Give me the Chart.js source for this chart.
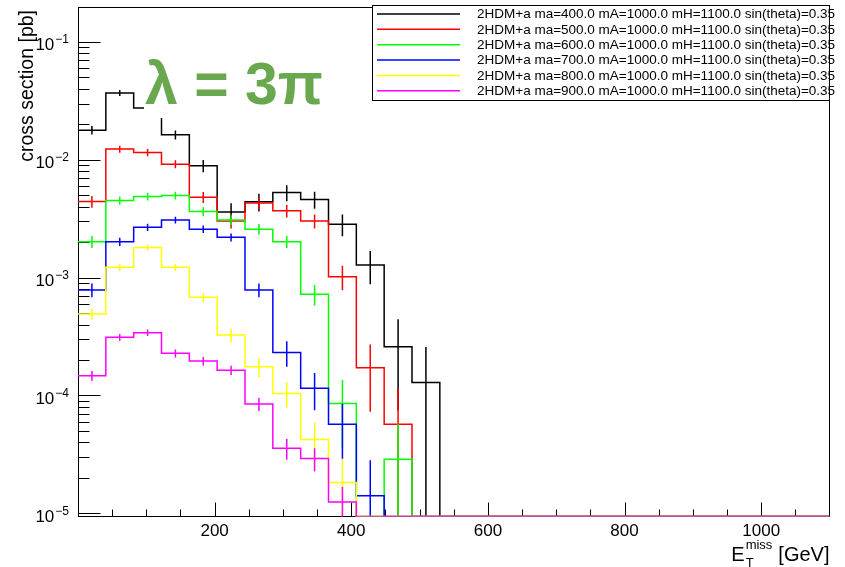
<!DOCTYPE html>
<html>
<head>
<meta charset="utf-8">
<title>MET distribution</title>
<script src="https://cdn.jsdelivr.net/npm/chart.js@4.4.1/dist/chart.umd.min.js"></script>
<style>
  html, body { margin: 0; padding: 0; background: #ffffff; }
  #wrap { position: relative; width: 845px; height: 567px; }
</style>
</head>
<body>
<div id="wrap"><canvas id="metChart" width="845" height="567"></canvas></div>
<script>
// binning: 27 equal bins over 0-1100 GeV
const nBins = 27;
const xMax = 1100;
const yMin = 9.4e-6;
const yMax = 0.2;

const seriesLabels = [
    '2HDM+a ma=400.0 mA=1000.0 mH=1100.0 sin(theta)=0.35',
    '2HDM+a ma=500.0 mA=1000.0 mH=1100.0 sin(theta)=0.35',
    '2HDM+a ma=600.0 mA=1000.0 mH=1100.0 sin(theta)=0.35',
    '2HDM+a ma=700.0 mA=1000.0 mH=1100.0 sin(theta)=0.35',
    '2HDM+a ma=800.0 mA=1000.0 mH=1100.0 sin(theta)=0.35',
    '2HDM+a ma=900.0 mA=1000.0 mH=1100.0 sin(theta)=0.35'
];
const seriesColors = ['#000000', '#ff0000', '#00ff00', '#0000ff', '#ffff00', '#ff00ff'];

// cross section per bin [pb], bins past the end of each list are empty
const xsMa400 = [0.01786, 0.0369, 0.0275, 0.0163, 0.00889, 0.0036, 0.0044, 0.00527, 0.0046, 0.00284, 0.00128, 0.000259, 0.000129];
const xsMa500 = [0.00442, 0.01233, 0.01153, 0.00919, 0.00482, 0.00303, 0.00429, 0.00369, 0.00303, 0.00102, 0.000172, 5.71e-5];
const xsMa600 = [0.00202, 0.00451, 0.00488, 0.00498, 0.00364, 0.00309, 0.00258, 0.00202, 0.000723, 8.57e-5, 0, 2.88e-5];
const xsMa700 = [0.000787, 0.00202, 0.00268, 0.00309, 0.00258, 0.0022, 0.000787, 0.000232, 0.000115, 5.71e-5, 1.41e-5];
const xsMa800 = [0.000492, 0.001225, 0.0018, 0.001225, 0.000681, 0.000326, 0.000175, 0.000104, 4.24e-5, 1.83e-5];
const xsMa900 = [0.000147, 0.000312, 0.000341, 0.000228, 0.000196, 0.000164, 8.45e-5, 3.56e-5, 2.92e-5, 1.25e-5];

// statistical errors per bin [pb]
const errMa400 = [0.0015, 0.00214, 0.00184, 0.00143, 0.00106, 0.000677, 0.000752, 0.000817, 0.000764, 0.000599, 0.000403, 0.000184, 0.000129];
const errMa500 = [0.0005, 0.000826, 0.000807, 0.000717, 0.00052, 0.000412, 0.000489, 0.000454, 0.000412, 0.00024, 9.92e-5, 5.71e-5];
const errMa600 = [0.000238, 0.000356, 0.000371, 0.000374, 0.00032, 0.000294, 0.000268, 0.000238, 0.000143, 4.97e-5, 0, 2.88e-5];
const errMa700 = [0.000104, 0.000166, 0.00019, 0.000204, 0.000188, 0.000174, 0.000104, 5.68e-5, 4.01e-5, 2.8e-5, 1.41e-5];
const errMa800 = [5.36e-5, 8.45e-5, 0.000103, 8.45e-5, 6.33e-5, 4.37e-5, 3.22e-5, 2.49e-5, 1.59e-5, 1.06e-5];
const errMa900 = [1.43e-5, 2.06e-5, 2.15e-5, 1.78e-5, 1.65e-5, 1.51e-5, 1.08e-5, 7.05e-6, 6.39e-6, 4.19e-6];

// axis ticks
const xTickLabels = [200, 400, 600, 800, 1000];
const xMinorStep = 50;
const yDecades = [-5, -4, -3, -2, -1];

const allValues = [xsMa400, xsMa500, xsMa600, xsMa700, xsMa800, xsMa900];
const allErrors = [errMa400, errMa500, errMa600, errMa700, errMa800, errMa900];
const binWidth = xMax / nBins;
const lineW = 1.5;
const fontFamily = '"Liberation Sans", Arial, Helvetica, sans-serif';

// step outline: one point per bin low edge, empty bins sit on the frame
function histPoints(values) {
    const pts = [];
    for (let i = 0; i < nBins; i++) {
        const v = i < values.length && values[i] > 0 ? values[i] : yMin;
        pts.push({ x: i * binWidth, y: v });
    }
    pts.push({ x: xMax, y: yMin });
    return pts;
}

// vertical error bars at bin centres, separated by gaps
function errorPoints(values, errors) {
    const pts = [];
    values.forEach((v, i) => {
        if (v <= 0) return;
        const xc = (i + 0.5) * binWidth;
        pts.push({ x: xc, y: Math.max(v - errors[i], yMin) });
        pts.push({ x: xc, y: v + errors[i] });
        pts.push({ x: xc, y: null });
    });
    return pts;
}

const datasets = [];
allValues.forEach((vals, i) => {
    datasets.push({
        label: seriesLabels[i],
        data: histPoints(vals),
        borderColor: seriesColors[i],
        borderWidth: lineW,
        stepped: 'before',
        pointRadius: 0,
        fill: false,
        order: 10 - i
    });
});
allValues.forEach((vals, i) => {
    datasets.push({
        label: '',
        data: errorPoints(vals, allErrors[i]),
        borderColor: seriesColors[i],
        borderWidth: lineW,
        pointRadius: 0,
        spanGaps: false,
        fill: false,
        order: 10 - i
    });
});

function drawPower(ctx, right, baseY, exp) {
    ctx.font = '12px ' + fontFamily;
    const sup = '\u2212' + Math.abs(exp);
    const supW = ctx.measureText(sup).width;
    ctx.textAlign = 'left';
    ctx.fillText(sup, right - supW, baseY - 7);
    ctx.font = '17px ' + fontFamily;
    ctx.textAlign = 'right';
    ctx.fillText('10', right - supW - 1, baseY);
}

const rootStyle = {
    id: 'rootStyle',
    // frame and ticks go under the histograms
    beforeDatasetsDraw(chart) {
        const { ctx, chartArea: a, scales: { x, y } } = chart;
        ctx.save();
        ctx.strokeStyle = '#000000';
        ctx.lineWidth = 1;

        ctx.strokeRect(Math.round(a.left) + 0.5, Math.round(a.top) + 0.5,
            Math.round(a.right - a.left) - 1, Math.round(a.bottom - a.top) - 1);

        const yb = Math.round(a.bottom) - 0.5;
        ctx.beginPath();
        for (let v = xMinorStep; v < xMax; v += xMinorStep) {
            const px = Math.round(x.getPixelForValue(v)) + 0.5;
            const len = v % 200 === 0 ? 14 : 7;
            ctx.moveTo(px, yb);
            ctx.lineTo(px, yb - len);
        }
        ctx.stroke();

        const xl = Math.round(a.left) + 0.5;
        ctx.beginPath();
        for (let k = -6; k <= 0; k++) {
            for (let m = 1; m <= 9; m++) {
                const v = m * Math.pow(10, k);
                if (v < yMin || v > yMax) continue;
                const py = Math.round(y.getPixelForValue(v)) + 0.5;
                const len = m === 1 ? 22 : 11;
                ctx.moveTo(xl, py);
                ctx.lineTo(xl + len, py);
            }
        }
        ctx.stroke();
        ctx.restore();
    },
    afterDatasetsDraw(chart) {
        const { ctx } = chart;
        // lambda annotation on a white patch
        ctx.save();
        ctx.fillStyle = '#ffffff';
        ctx.fillRect(144, 48, 188, 70);
        ctx.fillStyle = '#6aa84f';
        ctx.font = 'bold 59px ' + fontFamily;
        ctx.textAlign = 'left';
        ctx.textBaseline = 'alphabetic';
        ctx.fillText('\u03bb = 3\u03c0', 145, 104);
        ctx.restore();
    },
    afterDraw(chart) {
        const { ctx, chartArea: a, scales: { x, y } } = chart;
        ctx.save();
        ctx.fillStyle = '#000000';

        // x labels
        ctx.font = '17px ' + fontFamily;
        ctx.textAlign = 'center';
        ctx.textBaseline = 'alphabetic';
        xTickLabels.forEach(v => {
            ctx.fillText(String(v), x.getPixelForValue(v), a.bottom + 19);
        });

        // y labels 10^k
        yDecades.forEach(k => {
            const py = y.getPixelForValue(Math.pow(10, k));
            drawPower(ctx, 69, py + 8.5, k);
        });

        // x title: E_T^miss [GeV]
        ctx.font = '20px ' + fontFamily;
        ctx.textAlign = 'right';
        const titleBase = 561;
        ctx.fillText('[GeV]', a.right, titleBase);
        const gevW = ctx.measureText('[GeV]').width;
        ctx.font = '13px ' + fontFamily;
        const missW = ctx.measureText('miss').width;
        const missRight = a.right - gevW - 6;
        ctx.fillText('miss', missRight, titleBase - 12);
        ctx.textAlign = 'left';
        ctx.fillText('T', missRight - missW, titleBase + 6);
        ctx.font = '20px ' + fontFamily;
        ctx.textAlign = 'right';
        ctx.fillText('E', missRight - missW - 1, titleBase);

        // y title
        ctx.save();
        ctx.translate(33, 10);
        ctx.rotate(-Math.PI / 2);
        ctx.font = '19.5px ' + fontFamily;
        ctx.textAlign = 'right';
        ctx.fillText('cross section [pb]', 0, 0);
        ctx.restore();

        // legend box
        const lx = 372, ly = 5, lw = 457, lh = 95;
        ctx.fillStyle = '#ffffff';
        ctx.fillRect(lx, ly, lw, lh);
        ctx.strokeStyle = '#000000';
        ctx.lineWidth = 1;
        ctx.strokeRect(lx + 0.5, ly + 0.5, lw, lh);
        ctx.font = '13.5px ' + fontFamily;
        ctx.textAlign = 'left';
        ctx.textBaseline = 'middle';
        ctx.lineWidth = lineW;
        seriesLabels.forEach((label, i) => {
            const rowY = 14 + i * 15.35;
            ctx.strokeStyle = seriesColors[i];
            ctx.beginPath();
            ctx.moveTo(377, rowY);
            ctx.lineTo(460, rowY);
            ctx.stroke();
            ctx.fillStyle = '#000000';
            ctx.fillText(label, 477, rowY + 0.5);
        });
        ctx.restore();
    }
};

const ctx = document.getElementById('metChart').getContext('2d');
const metChart = new Chart(ctx, {
    type: 'line',
    data: { datasets: datasets },
    options: {
        responsive: false,
        animation: false,
        devicePixelRatio: 1,
        layout: { padding: { left: 78, right: 15.5, top: 6.5, bottom: 50.5 } },
        elements: { line: { tension: 0 } },
        plugins: {
            legend: { display: false },
            tooltip: { enabled: false },
            title: { display: false }
        },
        scales: {
            x: { type: 'linear', min: 0, max: xMax, display: false },
            y: { type: 'logarithmic', min: yMin, max: yMax, display: false }
        }
    },
    plugins: [rootStyle]
});
</script>
</body>
</html>
